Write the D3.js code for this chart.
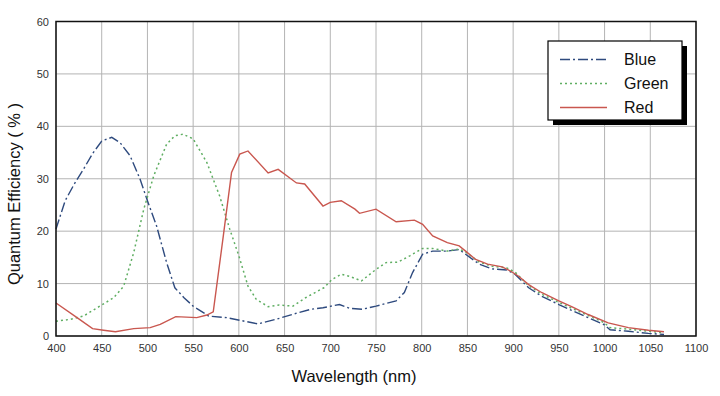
<!DOCTYPE html>
<html lang="en">
<head>
  <meta charset="UTF-8">
  <title>Quantum Efficiency</title>
  <script src="https://d3js.org/d3.v7.min.js"></script>
  <style>
    body { margin: 0; background: #fff; }
    text { font-family: Arial, "Liberation Sans", sans-serif; }
  </style>
</head>
<body>
  <script>
    // Data
    const blueWl = [400,410,420,430,440,450,461,470,481,492,500,510,521,530,540,550,567,587,601,621,641,660,679,692,710,721,735,750,772,781,790,801,812,828,841,848,863,877,893,902,917,931,950,964,982,999,1006,1026,1048,1065];
    const blueQe = [20.4,25.8,29,31.8,34.8,37.2,37.9,36.9,34.4,29.9,25.8,21,14,9.2,7.3,5.7,3.8,3.5,3.0,2.3,3.2,4.2,5.1,5.4,6.0,5.3,5.1,5.7,6.7,8.3,12.1,15.6,16.2,16.2,16.5,15.6,13.7,12.8,12.6,11.8,9.2,7.6,6.0,4.9,3.5,2.2,1.2,0.9,0.5,0.3];

    const greenWl = [400,416,430,448,463,474,485,496,507,521,530,539,550,565,579,590,600,610,619,632,644,659,673,693,702,712,721,734,750,761,774,787,801,812,828,841,848,863,877,893,902,917,931,950,964,982,999,1006,1026,1048,1065];
    const greenQe = [2.8,3.2,3.8,5.7,7.3,9.5,15.9,24.2,30.6,36.6,38.2,38.5,37.6,33.1,26.7,20.4,15.3,9.5,7.0,5.6,5.9,5.7,7.3,9.2,10.8,11.8,11.4,10.5,12.7,14.0,14.1,15.3,16.7,16.7,16.2,16.6,16.0,14.1,13.3,13.0,12.2,9.6,8.0,6.4,5.3,3.9,2.6,1.6,1.3,0.9,0.6];

    const redWl = [400,423,440,452,465,485,503,514,531,554,565,572,583,592,601,610,632,643,663,672,692,700,712,727,732,750,772,792,801,812,828,841,848,859,872,888,897,906,917,931,950,964,982,1004,1026,1048,1065];
    const redQe = [6.3,3.5,1.4,1.1,0.8,1.4,1.6,2.2,3.7,3.5,4.0,4.6,19.1,31.2,34.7,35.3,31.1,31.8,29.2,29.0,24.8,25.5,25.8,24.2,23.4,24.2,21.8,22.1,21.3,19.1,17.8,17.2,16.2,14.6,13.7,13.2,12.4,11.4,9.8,8.3,6.7,5.6,4.1,2.5,1.6,1.1,0.8];

    const xTicks = d3.range(400, 1101, 50);
    const yTicks = d3.range(0, 61, 10);

    const seriesNames = ["Blue", "Green", "Red"];

    const width = 720;
    const height = 396;
    const margin = { top: 21.5, right: 24, bottom: 60, left: 56 };

    const svg = d3.select("body")
      .append("svg")
      .attr("width", width)
      .attr("height", height);

    const x = d3.scaleLinear().domain([400, 1100]).range([margin.left, width - margin.right]);
    const y = d3.scaleLinear().domain([0, 60]).range([height - margin.bottom, margin.top]);

    // griglia
    svg.append("g")
      .selectAll("line.v")
      .data(xTicks)
      .enter()
      .append("line")
      .attr("x1", d => x(d)).attr("x2", d => x(d))
      .attr("y1", y(0)).attr("y2", y(60))
      .attr("stroke", "#b4b4b4")
      .attr("stroke-width", 1);

    svg.append("g")
      .selectAll("line.h")
      .data(yTicks)
      .enter()
      .append("line")
      .attr("x1", x(400)).attr("x2", x(1100))
      .attr("y1", d => y(d)).attr("y2", d => y(d))
      .attr("stroke", "#b4b4b4")
      .attr("stroke-width", 1);

    // assi
    const xAxis = svg.append("g")
      .attr("transform", `translate(0,${y(0)})`)
      .call(d3.axisBottom(x).tickValues(xTicks).tickFormat(d3.format("d")).tickSize(0).tickPadding(8));
    const yAxis = svg.append("g")
      .attr("transform", `translate(${x(400)},0)`)
      .call(d3.axisLeft(y).tickValues(yTicks).tickFormat(d3.format("d")).tickSize(0).tickPadding(7));
    [xAxis, yAxis].forEach(g => {
      g.select(".domain").remove();
      g.selectAll("text")
        .attr("fill", "#333")
        .style("font-size", "11px");
    });

    // curve
    const line = d3.line()
      .x(d => x(d[0]))
      .y(d => y(d[1]));

    const series = [
      { name: "Blue", wl: blueWl, qe: blueQe, color: "#2e4a7e", dash: "10,3,2,3", width: 1.4 },
      { name: "Green", wl: greenWl, qe: greenQe, color: "#5fae62", dash: "2,3", width: 1.5 },
      { name: "Red", wl: redWl, qe: redQe, color: "#c9574f", dash: null, width: 1.4 }
    ];

    series.forEach(s => {
      svg.append("path")
        .datum(d3.zip(s.wl, s.qe))
        .attr("d", line)
        .attr("fill", "none")
        .attr("stroke", s.color)
        .attr("stroke-width", s.width)
        .attr("stroke-dasharray", s.dash);
    });

    // cornice
    svg.append("rect")
      .attr("x", x(400)).attr("y", y(60))
      .attr("width", x(1100) - x(400))
      .attr("height", y(0) - y(60))
      .attr("fill", "none")
      .attr("stroke", "#111")
      .attr("stroke-width", 1.5);

    // legenda
    const lg = svg.append("g").attr("transform", "translate(548,41)");
    lg.append("rect")
      .attr("x", 5).attr("y", 5)
      .attr("width", 134).attr("height", 79)
      .attr("fill", "#000");
    lg.append("rect")
      .attr("width", 134).attr("height", 79)
      .attr("fill", "#fff")
      .attr("stroke", "#000")
      .attr("stroke-width", 1.2);

    series.forEach((s, i) => {
      const yy = 18.5 + i * 24;
      lg.append("line")
        .attr("x1", 12).attr("x2", 59)
        .attr("y1", yy).attr("y2", yy)
        .attr("stroke", s.color)
        .attr("stroke-width", 1.6)
        .attr("stroke-dasharray", s.dash);
      lg.append("text")
        .attr("x", 76).attr("y", yy + 5.5)
        .attr("fill", "#111")
        .style("font-size", "16px")
        .text(seriesNames[i]);
    });

    // titoli
    svg.append("text")
      .attr("x", 354).attr("y", 382)
      .attr("text-anchor", "middle")
      .attr("fill", "#111")
      .style("font-size", "16.5px")
      .text("Wavelength (nm)");

    svg.append("text")
      .attr("transform", "translate(20,194) rotate(-90)")
      .attr("text-anchor", "middle")
      .attr("fill", "#111")
      .style("font-size", "16.5px")
      .text("Quantum Efficiency ( % )");
  </script>
</body>
</html>
